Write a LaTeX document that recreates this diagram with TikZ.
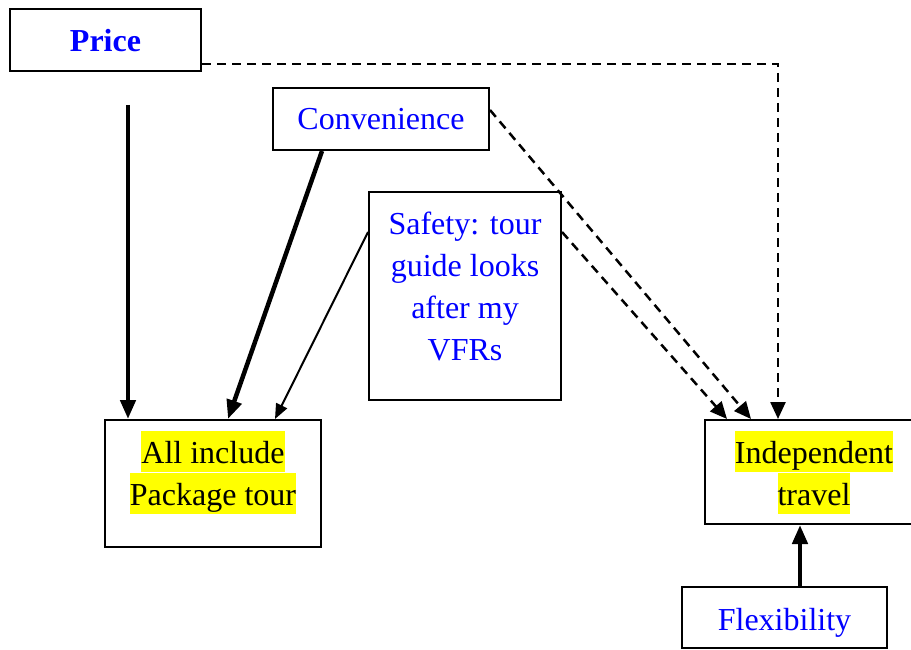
\documentclass[tikz,border=0pt]{standalone}
\usepackage{fontspec}
\setmainfont{Liberation Serif}
\usetikzlibrary{arrows.meta}
\definecolor{txtblue}{RGB}{0,0,255}
\definecolor{hiyellow}{RGB}{255,255,0}
% highlighted line of text and a plain line strut of the same size
\newcommand\hlite[1]{{\setlength{\fboxsep}{0pt}\colorbox{hiyellow}{\rule[-9pt]{0pt}{41pt}#1}}}
\newcommand\lstrut{\rule[-9pt]{0pt}{41pt}}
\begin{document}
\begin{tikzpicture}[x=1pt,y=-1pt,
  box/.style={draw=black,line width=2pt,inner sep=0pt},
  txt/.style={font=\fontsize{32}{42}\selectfont,inner sep=0pt,align=center},
  heavy/.style={line width=4.5pt,-{Triangle[length=19pt,width=15pt]}},
  light/.style={line width=2pt,-{Triangle[length=15pt,width=12pt]}},
  dashedarrow/.style={line width=2.5pt,dash pattern=on 9pt off 6pt,-{Triangle[length=17pt,width=15pt]}}
]
\useasboundingbox (0,0) rectangle (911,650);
\clip (0,0) rectangle (911,650);

% boxes and their texts
\node[box,minimum width=191pt,minimum height=62pt] (price) at (105.5,40) {};
\node[txt,text=txtblue,font=\fontsize{32}{42}\selectfont\bfseries,anchor=base] (pricetxt) at (105.5,52) {Price};
\node[box,minimum width=216pt,minimum height=62pt] (conv) at (381,119) {};
\node[txt,text=txtblue,anchor=base] (convtxt) at (381,130) {Convenience};
\node[box,minimum width=192pt,minimum height=208pt] (safe) at (465,296) {};
\node[txt,text=txtblue,anchor=north] (safetxt) at (465,202)
  {\lstrut Safety: tour\\ \lstrut guide looks\\ \lstrut after my\\ \lstrut VFRs};
\node[box,minimum width=216pt,minimum height=127pt] (pkg) at (213,483.5) {};
\node[txt,anchor=north] (pkgtxt) at (213,431) {\hlite{All include}\\ \hlite{Package tour}};
\node[box,minimum width=220pt,minimum height=104pt] (ind) at (815,472) {};
\node[txt,anchor=north] (indtxt) at (814,431) {\hlite{Independent}\\ \hlite{travel}};
\node[box,minimum width=205pt,minimum height=61pt] (flex) at (784.5,617.5) {};
\node[txt,text=txtblue,anchor=base] (flextxt) at (784.5,630) {Flexibility};

% solid connectors into the package tour
\coordinate (pstart) at (128,105);
\draw[heavy] (pstart) -- ([xshift=-85pt]pkg.north);
\draw[heavy] ([xshift=-59pt]conv.south) -- ([xshift=15pt]pkg.north);
\draw[light] ([yshift=64pt]safe.west) -- ([xshift=62pt]pkg.north);

% dashed connectors into independent travel
\draw[dashedarrow] ([yshift=-24pt]price.east) -| ([xshift=-37pt]ind.north);
\draw[dashedarrow] ([yshift=9pt]conv.east) -- ([xshift=-64pt]ind.north);
\draw[dashedarrow] ([yshift=64pt]safe.east) -- ([xshift=-88pt]ind.north);

% flexibility
\draw[heavy] ([xshift=15.5pt]flex.north) -- ([xshift=-15pt]ind.south);
\end{tikzpicture}
\end{document}
